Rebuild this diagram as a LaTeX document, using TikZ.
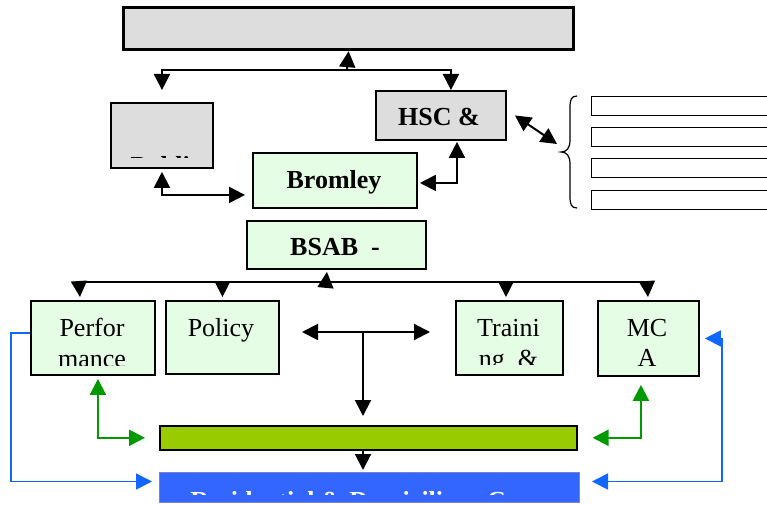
\documentclass[tikz,border=0pt]{standalone}
\usepackage{fontspec}
\setmainfont{Liberation Serif}
\usetikzlibrary{arrows.meta}
\definecolor{boxgrey}{HTML}{DDDDDD}
\definecolor{boxgreen}{HTML}{E5FCE5}
\definecolor{bargreen}{HTML}{99CC00}
\definecolor{barblue}{HTML}{3366FF}
\definecolor{barblueedge}{HTML}{8080CC}
\definecolor{arrgreen}{HTML}{009900}
\definecolor{arrblue}{HTML}{1166FF}
\begin{document}
\begin{tikzpicture}[x=1pt,y=-1pt,
  >={Triangle[length=16pt,width=16pt]},
  box/.style={draw=black, line width=1.9pt, inner sep=0pt, anchor=north west},
  greybox/.style={box, fill=boxgrey},
  greenbox/.style={box, fill=boxgreen},
  linebox/.style={draw=black, line width=1.1pt, fill=white, inner sep=0pt, anchor=north west, minimum width=200pt, minimum height=19pt},
  conn/.style={draw=black, line width=2pt},
  bus/.style={draw=black, line width=1.4pt},
  greenconn/.style={draw=arrgreen, line width=2.3pt},
  blueconn/.style={draw=arrblue, line width=1.8pt},
  lbl/.style={font=\fontsize{26}{31}\selectfont, inner sep=0pt, anchor=base},
  blbl/.style={font=\fontsize{26}{31}\selectfont\bfseries, inner sep=0pt, anchor=base}
]
\useasboundingbox (0,0) rectangle (767,505);

% boxes
\node[greybox, line width=3.2pt, minimum width=450pt, minimum height=42pt] (top) at (122,6) {};
\node[greybox, minimum width=102pt, minimum height=65pt] (pub) at (110,102) {};
\node[greybox, minimum width=130pt, minimum height=49pt] (hsc) at (375,90) {};
\node[greenbox, minimum width=164pt, minimum height=55pt] (brom) at (252,152) {};
\node[linebox] (r1) at (591,96) {};
\node[linebox] (r2) at (591,127) {};
\node[linebox] (r3) at (591,158) {};
\node[linebox] (r4) at (591,190) {};
\node[greenbox, minimum width=179pt, minimum height=48pt] (bsab) at (246,220) {};
\node[greenbox, minimum width=124pt, minimum height=74pt] (perf) at (30,300) {};
\node[greenbox, minimum width=113pt, minimum height=73pt] (pol) at (165,300) {};
\node[greenbox, minimum width=107pt, minimum height=74pt] (trn) at (455,300) {};
\node[greenbox, minimum width=101pt, minimum height=75pt] (mca) at (597,300) {};
\node[box, fill=bargreen, line width=1.6pt, minimum width=417pt, minimum height=24pt] (gbar) at (159,425) {};
\node[box, fill=barblue, draw=barblueedge, line width=1pt, minimum width=420pt, minimum height=30pt] (bbar) at (159,472) {};

% texts
\node[blbl] (thsc) at (439,126) {HSC \&};
\node[blbl] (tbrom) at (334,188) {Bromley};
\node[blbl] (tbsab) at (335,255) {BSAB\ \ -};
\node[lbl] (tpol) at (221,336) {Policy};
\node[lbl] (tmc) at (647,336) {MC};
\node[lbl] (ta) at (647,366) {A};
\begin{scope}
  \clip (pub.north west) rectangle (212,158);
  \node[blbl] (tpub) at (166,175) {Public};
\end{scope}
\begin{scope}
  \clip (perf.north west) rectangle (154,365);
  \node[lbl] (tperf1) at (92,336) {Perfor};
  \node[lbl] (tperf2) at (92,367) {mance};
\end{scope}
\begin{scope}
  \clip (trn.north west) rectangle (562,364.5);
  \node[lbl] (ttrn1) at (508.5,336) {Traini};
  \node[lbl] (ttrn2) at (508.5,367) {ng\ \ \&};
\end{scope}
\begin{scope}
  \clip (bbar.north west) rectangle (579,494);
  \node[blbl, text=white] (tres) at (366,509) {Residential \& Domiciliary Care};
\end{scope}

% top connectors
\coordinate (jt) at (347,70);
\draw[conn, ->] (jt) -- (top.south);
\draw[conn, <->] ([yshift=12pt]pub.north) |- (jt) -| ([xshift=10pt]hsc.north);
\draw[conn, <->] ([yshift=-3pt]pub.south) |- ([xshift=-7pt,yshift=-14.5pt]brom.west);
\draw[conn, <->] ([xshift=16pt,yshift=-1pt]hsc.south) |- ([xshift=2pt,yshift=-2.5pt]brom.east);
\coordinate (bt) at (557,144);
\draw[conn, <->] ([xshift=8pt]hsc.east) -- (bt);
% brace
\draw[line width=1.2pt] (577,96) .. controls (571,96) and (570,100) .. (570,108) -- (570,140)
  .. controls (570,149) and (566,152) .. (561,152) .. controls (566,152) and (570,155) .. (570,164)
  -- (570,196) .. controls (570,204) and (571,208) .. (577,208);

% BSAB bus
\coordinate (bl) at (79,282);
\coordinate (br) at (647,282);
\coordinate (bj) at (326,282);
\draw[bus] (bl) -- (br);
\draw[bus, ->] (bj) -- ([xshift=-9.5pt,yshift=-2pt]bsab.south);
\draw[bus, ->] (bl) -- ([xshift=-13pt,yshift=3pt]perf.north);
\draw[bus, ->] (pol.north |- bl) -- ([yshift=3pt]pol.north);
\draw[bus, ->] ([xshift=-3.5pt]trn.north |- bl) -- ([xshift=-3.5pt,yshift=3pt]trn.north);
\draw[bus, ->] (br) -- ([xshift=-0.5pt,yshift=3pt]mca.north);

% T arrows
\coordinate (tl) at (302,332);
\coordinate (tr) at (430,332);
\coordinate (tj) at (363,332);
\draw[conn, <->] (tl) -- (tr);
\draw[conn, ->, shorten >=9pt] (tj) -- (tj |- gbar.north);
\draw[conn, ->] (tj |- gbar.south) -- ([yshift=2pt]tj |- bbar.north);

% green arrows
\draw[greenconn, <->] ([xshift=5pt,yshift=-3pt]perf.south) |- ([xshift=-14pt]gbar.west);
\draw[greenconn, <->] ([xshift=-7.5pt,yshift=-8pt]mca.south) |- ([xshift=15pt]gbar.east);

% blue arrows
\draw[blueconn, ->] ([yshift=5pt]perf.west) -- ++(-19,0) |- ([xshift=-7pt,yshift=6pt]bbar.west);
\draw[blueconn, <->] ([xshift=5pt]mca.east) -- ++(17,0) |- ([xshift=12pt,yshift=6pt]bbar.east);
\end{tikzpicture}
\end{document}
